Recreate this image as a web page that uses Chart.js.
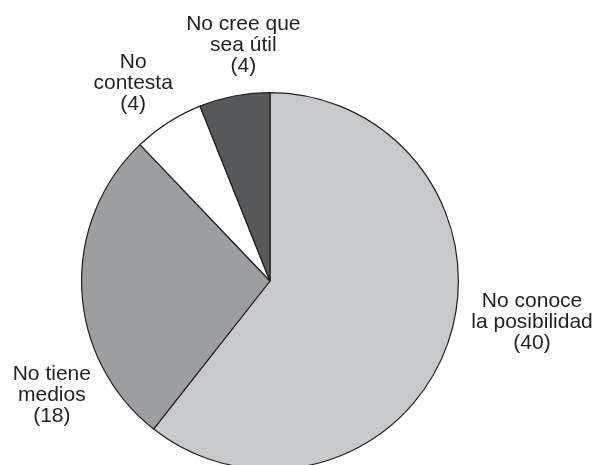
<!DOCTYPE html>
<html>
<head>
<meta charset="utf-8">
<script src="https://cdn.jsdelivr.net/npm/chart.js@4"></script>
<style>
  html, body { margin: 0; padding: 0; background: #ffffff; overflow: hidden; }
  #wrap { width: 595px; height: 480px; }
</style>
</head>
<body>
<div id="wrap"><canvas id="motivosChart" width="595" height="480"></canvas></div>
<script>
const categories = [
    ["No conoce", "la posibilidad"],
    ["No tiene", "medios"],
    ["No", "contesta"],
    ["No cree que", "sea útil"]
];
const counts = [40, 18, 4, 4];
const sliceColors = ['#c8c9cb', '#9d9ea0', '#ffffff', '#58595b'];

// label offsets from the midpoint of each slice's outer edge
const labelOffsets = [[84, -20], [-30, 105], [-35, -39], [9, -51]];

const pieLabels = {
    id: 'pieLabels',
    afterDraw(chart) {
        const ctx = chart.ctx;
        const arcs = chart.getDatasetMeta(0).data;
        ctx.save();
        ctx.fillStyle = '#231f20';
        ctx.font = '21px "Liberation Sans", Arial, sans-serif';
        ctx.textAlign = 'center';
        ctx.textBaseline = 'middle';
        arcs.forEach((arc, i) => {
            const { x, y, startAngle, endAngle, outerRadius } = arc.getProps(['x', 'y', 'startAngle', 'endAngle', 'outerRadius'], true);
            const mid = (startAngle + endAngle) / 2;
            const cx = x + Math.cos(mid) * outerRadius + labelOffsets[i][0];
            const cy = y + Math.sin(mid) * outerRadius + labelOffsets[i][1];
            const lines = categories[i].concat(['(' + counts[i] + ')']);
            const lh = 21;
            lines.forEach((line, j) => {
                ctx.fillText(line, cx, cy + (j - (lines.length - 1) / 2) * lh);
            });
        });
        ctx.restore();
    }
};

new Chart(document.getElementById('motivosChart'), {
    type: 'pie',
    data: {
        labels: categories.map(c => c.join(' ')),
        datasets: [{
            data: counts,
            backgroundColor: sliceColors,
            borderColor: '#231f20',
            borderWidth: 1.2
        }]
    },
    options: {
        responsive: false,
        animation: false,
        layout: { padding: { left: 81, right: 136, top: 92, bottom: 10 } },
        plugins: {
            legend: { display: false },
            tooltip: { enabled: false }
        }
    },
    plugins: [pieLabels]
});
</script>
</body>
</html>
